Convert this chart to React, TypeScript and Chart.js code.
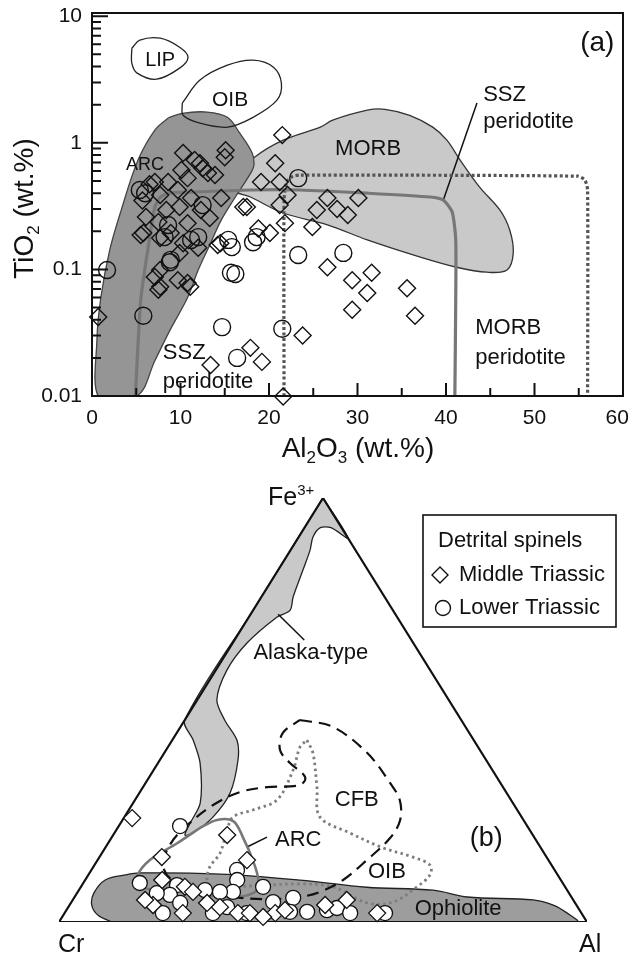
import { useEffect, useRef } from 'react';
import { Chart, registerables } from 'chart.js';
Chart.register(...registerables);

const FONT = '"Liberation Sans", Arial, Helvetica, sans-serif';

// ---------------- Panel (a): TiO2 vs Al2O3 ----------------
const alTicks = [0, 10, 20, 30, 40, 50, 60];
const tiTicks = [0.01, 0.1, 1, 10];

// [Al2O3 wt.%, TiO2 wt.%]
const middleTriassicA: number[][] = [
  [21.5, 1.15], [10.3, 0.83], [15.1, 0.875], [15.0, 0.77], [11.6, 0.73], [12.5, 0.63], [13.9, 0.556],
  [10.1, 0.61], [8.6, 0.49], [10.8, 0.526], [7.1, 0.49], [9.7, 0.424], [7.7, 0.387], [11.2, 0.366],
  [14.6, 0.366], [6.1, 0.259], [8.4, 0.294], [9.9, 0.311], [12.3, 0.294], [13.3, 0.255], [7.5, 0.237],
  [10.8, 0.232], [5.5, 0.187], [8.9, 0.194], [7.7, 0.177], [10.3, 0.161], [12.0, 0.148], [9.9, 0.135],
  [14.2, 0.156], [17.1, 0.311], [21.2, 0.49], [20.7, 0.69], [19.1, 0.49], [18.8, 0.21], [20.1, 0.194],
  [7.7, 0.099], [7.1, 0.087], [9.7, 0.082], [10.8, 0.078], [7.5, 0.069], [22.1, 0.387], [21.2, 0.322],
  [17.5, 0.311], [21.8, 0.232], [24.9, 0.216], [25.4, 0.294], [26.6, 0.366], [27.7, 0.30], [28.9, 0.269],
  [30.1, 0.366], [14.5, 0.161], [26.6, 0.104], [29.4, 0.082], [31.6, 0.094], [31.1, 0.065], [29.4, 0.048],
  [35.6, 0.071], [36.5, 0.043], [23.8, 0.030], [17.9, 0.024], [19.2, 0.0186], [13.4, 0.0176], [12.2, 0.69],
  [0.7, 0.042], [7.7, 0.073], [11.1, 0.073], [5.8, 0.194], [21.6, 0.0099], [13.1, 0.577], [6.5, 0.47],
  [5.7, 0.35],
];
const lowerTriassicA: number[][] = [
  [5.4, 0.424], [6.0, 0.40], [12.5, 0.322], [8.6, 0.224], [8.2, 0.18], [11.2, 0.171], [8.9, 0.119],
  [1.7, 0.099], [5.8, 0.043], [15.4, 0.171], [15.8, 0.15], [18.2, 0.164], [18.6, 0.18], [15.7, 0.094],
  [16.2, 0.092], [23.3, 0.526], [23.3, 0.13], [28.4, 0.135], [14.7, 0.035], [21.5, 0.034], [16.4, 0.02],
  [12.0, 0.18], [8.8, 0.114],
];
const lipField: number[][] = [
  [4.5, 5.59], [5.4, 6.47], [7.7, 6.7], [9.9, 5.69], [10.85, 4.75], [9.9, 3.89], [7.3, 3.18], [5.1, 3.55],
  [4.5, 4.26], [4.5, 5.59],
];
const oibFieldA: number[][] = [
  [10.2, 2.06], [12.2, 3.13], [15.3, 4.1], [18.2, 4.5], [20.5, 3.96], [21.4, 2.96], [20.9, 2.17], [18.2, 1.59],
  [15.3, 1.33], [12.2, 1.43], [10.3, 1.65], [10.2, 2.06],
];
const arcFieldA: number[][] = [
  [8.6, 1.57], [10.2, 1.71], [13.0, 1.75], [15.3, 1.59], [16.7, 1.19], [18.1, 0.83], [18.3, 0.667], [18.0, 0.587],
  [16.2, 0.373], [14.6, 0.245], [13.4, 0.161], [12.0, 0.099], [10.8, 0.06], [8.8, 0.033], [7.1, 0.019],
  [5.1, 0.01], [0.7, 0.01], [0.56, 0.028], [1.0, 0.06], [2.0, 0.142], [3.3, 0.294], [5.2, 0.73], [7.1, 1.26],
  [8.6, 1.57],
];
const morbField: number[][] = [
  [16.2, 0.526], [18.4, 0.771], [21.6, 1.05], [25.8, 1.33], [27.2, 1.51], [31.1, 1.81], [33.1, 1.84], [35.9, 1.65],
  [38.5, 1.33], [40.1, 1.05], [41.6, 0.73], [43.8, 0.447], [46.1, 0.294], [47.2, 0.205], [47.6, 0.135],
  [46.9, 0.099], [44.6, 0.095], [41.2, 0.104], [37.1, 0.125], [31.1, 0.171], [26.6, 0.225], [21.6, 0.279],
  [17.9, 0.373], [15.9, 0.424], [16.2, 0.526],
];
const sszPeridotite: number[][] = [
  [4.9, 0.01], [5.5, 0.057], [6.3, 0.142], [7.1, 0.31], [7.7, 0.37], [8.6, 0.40], [11.1, 0.408], [17.9, 0.424],
  [23.5, 0.424], [31.1, 0.40], [38.2, 0.373], [39.7, 0.353], [40.7, 0.284], [41.1, 0.171], [41.1, 0.057],
  [41.0, 0.01],
];
const morbPeridotite: number[][] = [
  [21.7, 0.01], [21.7, 0.353], [22.0, 0.49], [22.7, 0.545], [23.5, 0.556], [54.9, 0.545], [55.7, 0.508],
  [56.0, 0.424], [56.0, 0.01],
];
const sszLeader: number[][] = [[39.7, 0.353], [43.5, 2.06]];

// ---------------- Panel (b): Cr - Al - Fe3+ ternary ----------------
// [Cr, Al, Fe3+] in %
const middleTriassicB: number[][] = [
  [73.9, 1.6, 24.5], [57.9, 21.6, 20.5], [72.8, 11.8, 15.3], [75.5, 14.6, 9.9], [72, 19.7, 8.3], [80.2, 15.8, 4],
  [81.1, 13.7, 5.2], [75.5, 22.4, 2.1], [69.7, 25.8, 4.5], [57.1, 28.3, 14.6], [65, 32.8, 2.1], [62.8, 35.1, 2.1],
  [58, 39.9, 2.1], [42.9, 51.9, 5.2], [38.7, 59.2, 2.1], [67.7, 28.7, 3.5], [60.8, 38.1, 1.2], [71, 21.8, 7.1],
  [47.6, 48.4, 4], [55.8, 41.4, 2.8],
];
const lowerTriassicB: number[][] = [
  [65.7, 11.6, 22.6], [80.1, 10.7, 9.2], [73.3, 18, 8.7], [75.8, 17.8, 6.4], [79.2, 18.6, 2.1], [74.8, 20.7, 4.5],
  [60.2, 27.6, 12.3], [61.3, 28.8, 9.9], [63.5, 29.4, 7.1], [57.2, 34.5, 8.3], [66.1, 27, 7.1], [69.8, 28.1, 2.1],
  [66.4, 30.1, 3.5], [63.4, 34.5, 2.1], [52.8, 41.5, 5.7], [55.1, 42.6, 2.4], [51.8, 45.8, 2.4], [47.8, 49.3, 2.8],
  [45.7, 51, 3.3], [43.8, 54.1, 2.1], [37.2, 60.7, 2.1], [78, 15.1, 6.8], [68.6, 23.9, 7.5], [57.1, 38.2, 4.7],
];
const alaskaField: number[][] = [
  [0, 0, 100], [0, 9.4, 90.6], [2, 5, 93], [4, 3, 93], [6.5, 2.7, 90.8], [8.6, 3.7, 87.7], [12.3, 4.7, 83],
  [17.3, 6, 76.7], [19.5, 7, 73.5], [22.8, 5.3, 71.9], [31.5, 2.7, 65.8], [38.5, 2.1, 59.4], [43.9, 3.7, 52.4],
  [44.8, 7.6, 47.6], [44.9, 12.3, 42.9], [47, 14.8, 38.2], [52.4, 17.2, 30.4], [58.4, 16.8, 24.8], [64.1, 14.9, 21],
  [65.9, 13.6, 20.5], [63.6, 13.2, 23.3], [59.2, 12.7, 28.1], [54.6, 8, 37.5], [53.2, 4, 42.9], [52.4, 0, 47.6],
  [26, 0, 74], [0, 0, 100],
];
const ophioliteField: number[][] = [
  [90, 10, 0], [91.8, 6.6, 1.6], [91.8, 4.2, 4], [90, 3.2, 6.8], [86.3, 3.8, 9.9], [81.9, 7, 11.1], [78.9, 9.6, 11.6],
  [63.8, 24.9, 11.3], [49.4, 40.7, 9.9], [37.6, 54.2, 8.2], [25.4, 67.1, 7.5], [19.7, 74.4, 5.9], [7.6, 87.2, 5.2],
  [4.4, 91.6, 4], [2.7, 95.2, 2.1], [1.9, 98.1, 0], [50, 50, 0], [90, 10, 0],
];
const arcFieldB: number[][] = [
  [62.3, 15.6, 22.2], [58.1, 17.9, 24.1], [55.1, 21.1, 23.8], [55.2, 25, 19.8], [56, 29.4, 14.6], [57.3, 32.8, 9.9],
  [59.4, 33.6, 7.1], [63.7, 30.4, 5.9], [68.8, 24.8, 6.4], [73.1, 18.9, 8], [77, 14.9, 7.5], [80.5, 11, 8.5],
  [79.7, 9.4, 10.8], [75.5, 9.9, 14.6], [68.8, 13.1, 18.6], [62.3, 15.6, 22.2],
];
const cfbField: number[][] = [
  [30.5, 21.8, 47.6], [25.1, 28.9, 46], [21.7, 38.4, 39.9], [20.9, 46.3, 32.8], [21.1, 50.2, 28.7], [23.4, 52.6, 24],
  [27.4, 52.8, 19.8], [34.4, 51, 14.6], [41.2, 48.8, 9.9], [47, 45.9, 7.1], [51.4, 42.7, 5.9], [57.9, 36.7, 5.4],
  [64.1, 30, 5.9], [69.5, 22.9, 7.6], [73.6, 16.5, 9.9], [73.6, 13, 13.4], [69.9, 11.9, 18.2], [65, 12.7, 22.4],
  [57, 15.4, 27.6], [50.4, 19, 30.7], [44.7, 23.5, 31.8], [38.2, 29.5, 32.3], [36.3, 29.5, 34.2], [37.5, 25, 37.5],
  [37.9, 21.6, 40.6], [35.3, 20.1, 44.6], [30.5, 21.8, 47.6],
];
const oibFieldB: number[][] = [
  [31.6, 25.5, 42.9], [32, 28.2, 39.8], [35.2, 32.9, 31.8], [38.2, 37, 24.8], [34.4, 44.6, 21], [29.9, 52.6, 17.5],
  [25.3, 59.4, 15.3], [23, 63.5, 13.4], [24.2, 64.7, 11.1], [28.1, 63.7, 8.3], [34.4, 60.9, 4.7], [39.4, 56.1, 4.5],
  [44, 47.8, 8.3], [49.9, 41.2, 9], [56.3, 35, 8.7], [63, 28.8, 8.3], [66.7, 25, 8.3], [67, 23.1, 9.9], [65, 22.1, 13],
  [61.4, 22.4, 16.3], [57.3, 21, 21.7], [54.7, 20.6, 24.8], [50, 23.5, 26.4], [44.3, 26.9, 28.8], [37.7, 26.4, 35.8],
  [33.7, 25, 41.3], [31.6, 25.5, 42.9],
];
const triangleFrame: number[][] = [[100, 0, 0], [0, 100, 0], [0, 0, 100], [100, 0, 0]];
const alaskaLeader: number[][] = [[22.2, 5.2, 72.6], [20.3, 13.2, 66.5]];
const arcLeaderB: number[][] = [[55.6, 26.8, 17.7], [50.6, 29.4, 20]];

// ---------------- helpers ----------------
const toXY = (pts: number[][]) => pts.map(([x, y]) => ({ x, y }));
const toTern = (pts: number[][]) =>
  pts.map(([cr, al, fe]) => {
    const s = cr + al + fe;
    return { x: (al + fe / 2) / s, y: fe / s };
  });

type Part = [string, 'n' | 'sub' | 'sup'];
function drawRich(ctx: CanvasRenderingContext2D, parts: Part[], x: number, y: number, size: number, align: 'left' | 'center' | 'right', small = 0.62) {
  const ss = Math.round(size * small);
  const widths = parts.map(([t, k]) => {
    ctx.font = `${k === 'n' ? size : ss}px ${FONT}`;
    return ctx.measureText(t).width;
  });
  const total = widths.reduce((a, b) => a + b, 0);
  let cx = align === 'center' ? x - total / 2 : align === 'right' ? x - total : x;
  ctx.textAlign = 'left';
  ctx.textBaseline = 'alphabetic';
  parts.forEach(([t, k], i) => {
    ctx.font = `${k === 'n' ? size : ss}px ${FONT}`;
    const dy = k === 'sub' ? size * 0.22 : k === 'sup' ? -size * 0.42 : 0;
    ctx.fillText(t, cx, y + dy);
    cx += widths[i];
  });
}

const labelsA = [
  { t: 'LIP', x: 7.7, y: 4.5, s: 20, a: 'center' },
  { t: 'OIB', x: 15.6, y: 2.17, s: 21, a: 'center' },
  { t: 'ARC', x: 6.0, y: 0.67, s: 18, a: 'center' },
  { t: 'MORB', x: 31.2, y: 0.89, s: 22, a: 'center' },
  { t: 'SSZ', x: 44.2, y: 2.38, s: 22, a: 'left' },
  { t: 'peridotite', x: 44.2, y: 1.46, s: 22, a: 'left' },
  { t: 'MORB', x: 43.3, y: 0.0344, s: 22, a: 'left' },
  { t: 'peridotite', x: 43.3, y: 0.020, s: 22, a: 'left' },
  { t: 'SSZ', x: 8.0, y: 0.0218, s: 22, a: 'left' },
  { t: 'peridotite', x: 8.0, y: 0.0129, s: 22, a: 'left' },
  { t: '(a)', x: 57.1, y: 6.12, s: 28, a: 'center' },
];

const labelsB = [
  { t: 'Alaska-type', x: 0.477, y: 0.634, s: 22 },
  { t: 'CFB', x: 0.564, y: 0.288, s: 22 },
  { t: '(b)', x: 0.809, y: 0.198, s: 27 },
  { t: 'OIB', x: 0.621, y: 0.118, s: 22 },
  { t: 'Ophiolite', x: 0.756, y: 0.031, s: 22 },
  { t: 'ARC', x: 0.453, y: 0.193, s: 22 },
];

const panelAPlugin = {
  id: 'panelA',
  afterDraw(chart: any) {
    const { ctx, chartArea: ca } = chart;
    const xs = chart.scales.x, ys = chart.scales.y;
    ctx.save();
    ctx.strokeStyle = '#111';
    ctx.lineWidth = 2;
    ctx.strokeRect(ca.left, ca.top, ca.right - ca.left, ca.bottom - ca.top);
    ctx.beginPath();
    for (let v = 0; v <= 60; v += 5) {
      const px = xs.getPixelForValue(v);
      const len = v % 10 === 0 ? 13 : 8;
      ctx.moveTo(px, ca.bottom);
      ctx.lineTo(px, ca.bottom - len);
    }
    for (let e = -2; e <= 1; e++) {
      for (let m = 1; m <= 9; m++) {
        const v = m * Math.pow(10, e);
        if (v > ys.max) continue;
        const py = ys.getPixelForValue(v);
        const len = m === 1 ? 16 : 9;
        ctx.moveTo(ca.left, py);
        ctx.lineTo(ca.left + len, py);
      }
    }
    ctx.stroke();

    ctx.fillStyle = '#111';
    for (const l of labelsA) {
      ctx.font = `${l.s}px ${FONT}`;
      ctx.textAlign = l.a as CanvasTextAlign;
      ctx.textBaseline = 'middle';
      ctx.fillText(l.t, xs.getPixelForValue(l.x), ys.getPixelForValue(l.y));
    }
    // axis titles
    drawRich(ctx, [['Al', 'n'], ['2', 'sub'], ['O', 'n'], ['3', 'sub'], [' (wt.%)', 'n']], (ca.left + ca.right) / 2 + 0.5, ca.bottom + 61, 28, 'center');
    ctx.save();
    ctx.translate(33, (ca.top + ca.bottom) / 2 + 4);
    ctx.rotate(-Math.PI / 2);
    drawRich(ctx, [['TiO', 'n'], ['2', 'sub'], [' (wt.%)', 'n']], 0, 0, 28, 'center');
    ctx.restore();
    ctx.restore();
  },
};

const panelBPlugin = {
  id: 'panelB',
  afterDraw(chart: any) {
    const { ctx } = chart;
    const xs = chart.scales.x, ys = chart.scales.y;
    ctx.save();
    ctx.fillStyle = '#111';
    for (const l of labelsB) {
      ctx.font = `${l.s}px ${FONT}`;
      ctx.textAlign = 'center';
      ctx.textBaseline = 'middle';
      ctx.fillText(l.t, xs.getPixelForValue(l.x), ys.getPixelForValue(l.y));
    }
    const apX = xs.getPixelForValue(0.5), apY = ys.getPixelForValue(1);
    drawRich(ctx, [['Fe', 'n'], ['3+', 'sup']], apX - 55, apY + 7, 25, 'left', 0.6);
    const bY = ys.getPixelForValue(0) + 30;
    drawRich(ctx, [['Cr', 'n']], xs.getPixelForValue(0) - 1, bY, 25, 'left');
    drawRich(ctx, [['Al', 'n']], xs.getPixelForValue(1) - 8, bY, 25, 'left');

    // legend box
    const L = 423, T = 45, R = 616, B = 157;
    ctx.strokeStyle = '#111';
    ctx.lineWidth = 1.6;
    ctx.strokeRect(L, T, R - L, B - T);
    ctx.font = `22px ${FONT}`;
    ctx.textAlign = 'left';
    ctx.textBaseline = 'middle';
    ctx.fillText('Detrital spinels', 438, 71);
    ctx.fillText('Middle Triassic', 459, 105);
    ctx.fillText('Lower Triassic', 459, 138);
    ctx.lineWidth = 1.4;
    ctx.beginPath();
    ctx.moveTo(440, 105 - 8); ctx.lineTo(448, 105); ctx.lineTo(440, 105 + 8); ctx.lineTo(432, 105); ctx.closePath();
    ctx.stroke();
    ctx.beginPath();
    ctx.arc(443, 138, 7.5, 0, Math.PI * 2);
    ctx.stroke();
    ctx.restore();
  },
};

function fieldDs(data: any[], opts: any) {
  return {
    data,
    showLine: true,
    pointRadius: 0,
    pointHoverRadius: 0,
    tension: 0.35,
    fill: false,
    borderColor: '#222',
    borderWidth: 1.3,
    ...opts,
  };
}

export default function App() {
  const refA = useRef<HTMLCanvasElement>(null);
  const refB = useRef<HTMLCanvasElement>(null);

  useEffect(() => {
    const chartA = new Chart(refA.current as HTMLCanvasElement, {
      type: 'scatter',
      data: {
        datasets: [
          fieldDs(toXY(morbField), { label: 'MORB', fill: 'shape', backgroundColor: '#c9c9c9', borderColor: '#333', order: 6 }),
          fieldDs(toXY(arcFieldA), { label: 'ARC', fill: 'shape', backgroundColor: '#959595', borderColor: '#444', order: 5 }),
          fieldDs(toXY(oibFieldA), { label: 'OIB', order: 4 }),
          fieldDs(toXY(lipField), { label: 'LIP', order: 4 }),
          fieldDs(toXY(sszPeridotite), { label: 'SSZ peridotite', borderColor: '#777', borderWidth: 3.2, tension: 0.2, order: 3 }),
          fieldDs(toXY(morbPeridotite), { label: 'MORB peridotite', borderColor: '#555', borderWidth: 3.2, borderDash: [3, 2.5], tension: 0.2, order: 3 }),
          fieldDs(toXY(sszLeader), { label: 'leader', borderColor: '#111', borderWidth: 1.5, tension: 0, order: 3 }),
          {
            label: 'Middle Triassic',
            data: toXY(middleTriassicA),
            pointStyle: 'rectRot',
            pointRadius: 8.5,
            pointBorderWidth: 1.4,
            pointBorderColor: '#111',
            pointBackgroundColor: 'rgba(0,0,0,0)',
            clip: false,
            order: 1,
          },
          {
            label: 'Lower Triassic',
            data: toXY(lowerTriassicA),
            pointStyle: 'circle',
            pointRadius: 8.5,
            pointBorderWidth: 1.4,
            pointBorderColor: '#111',
            pointBackgroundColor: 'rgba(0,0,0,0)',
            clip: false,
            order: 0,
          },
        ] as any,
      },
      options: {
        animation: false,
        responsive: false,
        maintainAspectRatio: false,
        layout: { padding: { left: 0, right: 10, top: 13, bottom: 0 } },
        plugins: { legend: { display: false }, tooltip: { enabled: false } },
        scales: {
          x: {
            type: 'linear',
            min: 0,
            max: 60,
            afterFit: (s: any) => { s.height = 84; s.paddingLeft = 0; s.paddingRight = 0; },
            afterBuildTicks: (s: any) => { s.ticks = alTicks.map((v) => ({ value: v })); },
            grid: { display: false, drawTicks: false },
            border: { display: false },
            ticks: {
              font: { family: FONT, size: 21 },
              color: '#111',
              padding: 10,
              maxRotation: 0,
              callback: (v: any) => (v === alTicks[alTicks.length - 1] ? `${v}\u2007` : String(v)),
            },
          },
          y: {
            type: 'logarithmic',
            min: 0.01,
            max: 10.6,
            afterFit: (s: any) => { s.width = 92; s.paddingTop = 0; s.paddingBottom = 0; },
            afterBuildTicks: (s: any) => { s.ticks = tiTicks.map((v) => ({ value: v })); },
            grid: { display: false, drawTicks: false },
            border: { display: false },
            ticks: { font: { family: FONT, size: 21 }, color: '#111', padding: 10, callback: (v: any) => String(v) },
          },
        },
      } as any,
      plugins: [panelAPlugin],
    });

    const chartB = new Chart(refB.current as HTMLCanvasElement, {
      type: 'scatter',
      data: {
        datasets: [
          fieldDs(toTern(ophioliteField), { label: 'Ophiolite', fill: 'shape', backgroundColor: '#9d9d9d', borderColor: '#222', order: 8 }),
          fieldDs(toTern(alaskaField), { label: 'Alaska-type', fill: 'shape', backgroundColor: '#c9c9c9', borderColor: '#222', tension: 0.3, order: 8 }),
          fieldDs(toTern(triangleFrame), { label: 'frame', borderColor: '#111', borderWidth: 2.2, tension: 0, order: 7 }),
          fieldDs(toTern(cfbField), { label: 'CFB', borderColor: '#111', borderWidth: 2.2, borderDash: [12, 7], order: 4 }),
          fieldDs(toTern(oibFieldB), { label: 'OIB', borderColor: '#7d7d7d', borderWidth: 2.8, borderDash: [2.5, 3.5], order: 4 }),
          fieldDs(toTern(arcFieldB), { label: 'ARC', borderColor: '#777', borderWidth: 2.6, order: 4 }),
          fieldDs(toTern(alaskaLeader), { label: 'leader1', borderColor: '#111', borderWidth: 1.5, tension: 0, order: 4 }),
          fieldDs(toTern(arcLeaderB), { label: 'leader2', borderColor: '#111', borderWidth: 1.5, tension: 0, order: 4 }),
          {
            label: 'Lower Triassic',
            data: toTern(lowerTriassicB),
            pointStyle: 'circle',
            pointRadius: 7.5,
            pointBorderWidth: 1.3,
            pointBorderColor: '#111',
            pointBackgroundColor: '#fff',
            clip: false,
            order: 1,
          },
          {
            label: 'Middle Triassic',
            data: toTern(middleTriassicB),
            pointStyle: 'rectRot',
            pointRadius: 8.5,
            pointBorderWidth: 1.3,
            pointBorderColor: '#111',
            pointBackgroundColor: '#fff',
            clip: false,
            order: 0,
          },
        ] as any,
      },
      options: {
        animation: false,
        responsive: false,
        maintainAspectRatio: false,
        layout: { padding: { left: 59, right: 46, top: 28, bottom: 34 } },
        plugins: { legend: { display: false }, tooltip: { enabled: false } },
        scales: {
          x: { type: 'linear', min: 0, max: 1, display: false },
          y: { type: 'linear', min: 0, max: 1, display: false },
        },
      } as any,
      plugins: [panelBPlugin],
    });

    return () => {
      chartA.destroy();
      chartB.destroy();
    };
  }, []);

  return (
    <div style={{ position: 'absolute', left: 0, top: 0, width: 633, height: 956, background: '#fff' }}>
      <canvas ref={refA} width={633} height={480} style={{ position: 'absolute', left: 0, top: 0, width: 633, height: 480 }} />
      <canvas ref={refB} width={633} height={486} style={{ position: 'absolute', left: 0, top: 470, width: 633, height: 486 }} />
    </div>
  );
}
